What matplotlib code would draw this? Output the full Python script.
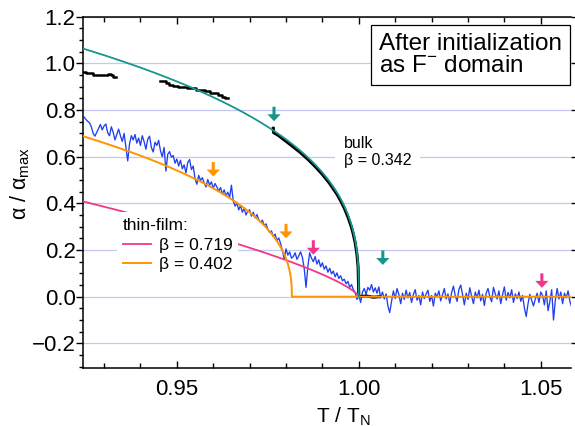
import numpy as np
import matplotlib
matplotlib.use("Agg")
import matplotlib.pyplot as plt
from matplotlib.ticker import MultipleLocator

plt.rcParams['font.family'] = ['Liberation Sans', 'DejaVu Sans']
plt.rcParams['mathtext.fontset'] = 'custom'
plt.rcParams['mathtext.rm'] = 'Liberation Sans'
plt.rcParams['mathtext.it'] = 'Liberation Sans:italic'
plt.rcParams['mathtext.bf'] = 'Liberation Sans:bold'

# thin-film data: alpha/alpha_max (x1000), T/T_N starts at 0.9245, step 0.0005
film_t0 = 0.9245
film_dt = 0.0005
film_alpha = np.array([
    770, 760, 752, 745, 728, 700, 688, 705, 722, 738, 715, 732, 740, 702, 690, 728, 705, 672, 695, 718,
    690, 665, 700, 640, 582, 655, 690, 672, 695, 658, 680, 648, 690, 665, 632, 675, 688, 640, 620, 662,
    648, 670, 625, 600, 640, 538, 610, 622, 598, 605, 572, 590, 560, 585, 548, 565, 530, 575, 588, 545,
    560, 505, 482, 520, 498, 510, 488, 470, 502, 478, 492, 465, 485, 470, 452, 468, 440, 458, 432, 448,
    425, 478, 410, 388, 402, 372, 390, 362, 378, 350, 368, 372, 345, 362, 338, 352, 330, 318, 328, 305,
    312, 290, 275, 282, 258, 268, 240, 252, 228, 198, 160, 205, 178, 192, 165, 172, 188, 160, 175, 192,
    168, 120, 40, 130, 188, 165, 150, 172, 140, 158, 128, 145, 118, 132, 105, 122, 98, 110, 85, 102,
    78, 90, 68, 75, 55, 66, 40, 52, 30, 18, -12, 8, -25, 20, 35, 10, 40, 28, 52, 20,
    38, 15, 42, -5, 20, -10, 12, -40, -68, -20, 25, -8, 35, 10, -30, 15, -12, 28, -5, 18,
    -25, 10, 30, -15, 5, -35, 20, -8, 12, 28, -20, 5, -40, 15, 0, 25, -18, 8, 35, -10,
    12, -28, 18, 45, 5, -20, 30, 50, 10, -35, 15, -12, 38, 2, -30, 20, -5, 28, -18, 10,
    -38, 15, 35, 0, -22, 40, 12, -10, 25, -30, 8, 42, -15, 18, -5, 30, -25, 12, -8, 20,
    -20, 5, -48, -85, -30, 10, -15, -40, -10, 15, -25, 20, 5, -35, 25, -60, -20, 30, -100, -15,
    35, -10, 20, -30, 15, -5, 25, -20, -45,
]) / 1000.0
film_t = film_t0 + film_dt * np.arange(len(film_alpha))

# bulk data (black, three pieces)
bulk_t1 = [0.9243, 0.9250, 0.9262, 0.9270, 0.9285, 0.9300, 0.9312, 0.9318, 0.9325, 0.9332]
bulk_a1 = [0.963, 0.957, 0.960, 0.952, 0.950, 0.948, 0.955, 0.950, 0.942, 0.940]
bulk_t2 = [0.9455, 0.9470, 0.9478, 0.9490, 0.9502, 0.9515, 0.9528, 0.9540, 0.9552,
           0.9565, 0.9578, 0.9590, 0.9600, 0.9612, 0.9625, 0.9632, 0.9641]
bulk_a2 = [0.924, 0.915, 0.907, 0.905, 0.898, 0.900, 0.895, 0.893, 0.887,
           0.885, 0.880, 0.873, 0.872, 0.866, 0.857, 0.850, 0.850]
bulk_t3 = [0.9765, 0.9766, 0.9775, 0.978, 0.980, 0.982, 0.984, 0.986, 0.988, 0.990, 0.992,
           0.994, 0.995, 0.996, 0.997, 0.998, 0.9985, 0.999, 0.9995, 0.9998, 1.000, 1.002, 1.004, 1.0056]
bulk_a3 = [0.722, 0.703, 0.695, 0.690, 0.666, 0.642, 0.617, 0.589, 0.558, 0.524, 0.485,
           0.439, 0.411, 0.380, 0.342, 0.297, 0.267, 0.231, 0.180, 0.128, 0.000, 0.003, -0.002, 0.000]

# power-law fits  alpha = amp * (Tc - T)^beta
fit_bulk = dict(amp=2.57, tc=1.000, beta=0.342)
fit_film1 = dict(amp=2.61, tc=1.000, beta=0.719)
fit_film2 = dict(amp=2.17, tc=0.9816, beta=0.402)

# arrows: T position, tip value
arrow_teal_t = [0.9767, 1.0066]
arrow_teal_y = [0.752, 0.136]
arrow_orange_t = [0.9600, 0.9800]
arrow_orange_y = [0.515, 0.250]
arrow_pink_t = [0.9875, 1.0503]
arrow_pink_y = [0.180, 0.038]

xlim = (0.9243, 1.0583)
ylim = (-0.307, 1.2)

c_blue = '#2040f0'
c_teal = '#16968c'
c_pink = '#f0388a'
c_orange = '#ff9600'


def power_law(p, t_end):
    t = p['tc'] - np.logspace(-8, np.log10(p['tc'] - xlim[0]), 600)[::-1]
    a = p['amp'] * (p['tc'] - t) ** p['beta']
    t = np.concatenate([t, [p['tc'], t_end]])
    a = np.concatenate([a, [0.0, 0.0]])
    return t, a


fig = plt.figure(figsize=(5.75, 4.26), dpi=100)
ax = fig.add_axes([0.1449, 0.1354, 0.8481, 0.8254])

ax.plot(film_t, film_alpha, color=c_blue, lw=0.95, zorder=2)
ax.plot(bulk_t1, bulk_a1, color='black', lw=1.8, drawstyle='steps-post', zorder=3)
ax.plot(bulk_t2, bulk_a2, color='black', lw=1.8, drawstyle='steps-post', zorder=3)
ax.plot(bulk_t3, bulk_a3, color='black', lw=2.2, zorder=3)

t, a = power_law(fit_film1, 1.0)
l_pink, = ax.plot(t, a, color=c_pink, lw=1.3, zorder=4, label='β = 0.719')
t, a = power_law(fit_film2, xlim[1])
l_orange, = ax.plot(t, a, color=c_orange, lw=1.4, zorder=5, label='β = 0.402')
t, a = power_law(fit_bulk, 1.0)
ax.plot(t, a, color=c_teal, lw=1.3, zorder=6)

arrow_len = 0.062
for ts, ys, col in [(arrow_teal_t, arrow_teal_y, c_teal),
                    (arrow_orange_t, arrow_orange_y, c_orange),
                    (arrow_pink_t, arrow_pink_y, c_pink)]:
    for tt, yy in zip(ts, ys):
        ax.annotate('', xy=(tt, yy), xytext=(tt, yy + arrow_len),
                    arrowprops=dict(arrowstyle='simple,head_length=0.5,head_width=0.95,tail_width=0.22',
                                    color=col, lw=0, shrinkA=0, shrinkB=0, mutation_scale=10),
                    zorder=7)

ax.set_xlim(*xlim)
ax.set_ylim(*ylim)
ax.set_xticks([0.95, 1.00, 1.05])
ax.xaxis.set_minor_locator(MultipleLocator(0.01))
ax.yaxis.set_major_locator(MultipleLocator(0.2))
ax.yaxis.set_minor_locator(MultipleLocator(0.05))

ax.tick_params(axis='x', which='both', direction='in', top=True, bottom=True,
               labelsize=16, pad=8, width=1)
ax.tick_params(axis='x', which='major', length=5)
ax.tick_params(axis='x', which='minor', length=3.5)
ax.tick_params(axis='y', which='both', direction='out', left=True, labelsize=16, pad=0.5, width=1)
ax.tick_params(axis='y', which='major', length=5, right=True)
ax.tick_params(axis='y', which='minor', length=3, right=False)

for s in ['left', 'bottom', 'top']:
    ax.spines[s].set_linewidth(1.1)
ax.spines['right'].set_visible(False)

ax.yaxis.grid(True, color='#c5c8f2', lw=0.9)
ax.set_axisbelow(True)

ax.set_xlabel('T / T$_\\mathrm{N}$', fontsize=15)
ax.set_ylabel('α / α$_\\mathrm{max}$', fontsize=15.5)
ax.xaxis.set_label_coords(0.533, -0.105)
ax.yaxis.set_label_coords(-0.105, 0.527)

ax.text(0.606, 0.953, 'After initialization\nas F$^{\\mathrm{-}}$ domain', transform=ax.transAxes,
        fontsize=17.5, ha='left', va='top', linespacing=1.0, zorder=8,
        bbox=dict(boxstyle='square,pad=0.32', fc='white', ec='black', lw=0.9))

ax.text(0.9958, 0.62, 'bulk\nβ = 0.342', fontsize=11.5, ha='left', va='center',
        linespacing=1.1, zorder=8,
        bbox=dict(boxstyle='square,pad=0.55', fc='white', ec='none'))

leg = ax.legend(handles=[l_pink, l_orange], title='thin-film:', loc='upper left',
                bbox_to_anchor=(0.069, 0.445), fontsize=12.5, title_fontsize=12.5,
                frameon=True, fancybox=False, framealpha=1, facecolor='white',
                edgecolor='none', handlelength=1.6, handletextpad=0.45,
                labelspacing=0.26, borderpad=0.35, borderaxespad=0, alignment='left')
leg.set_zorder(9)

fig.savefig('out.png', dpi=100)
